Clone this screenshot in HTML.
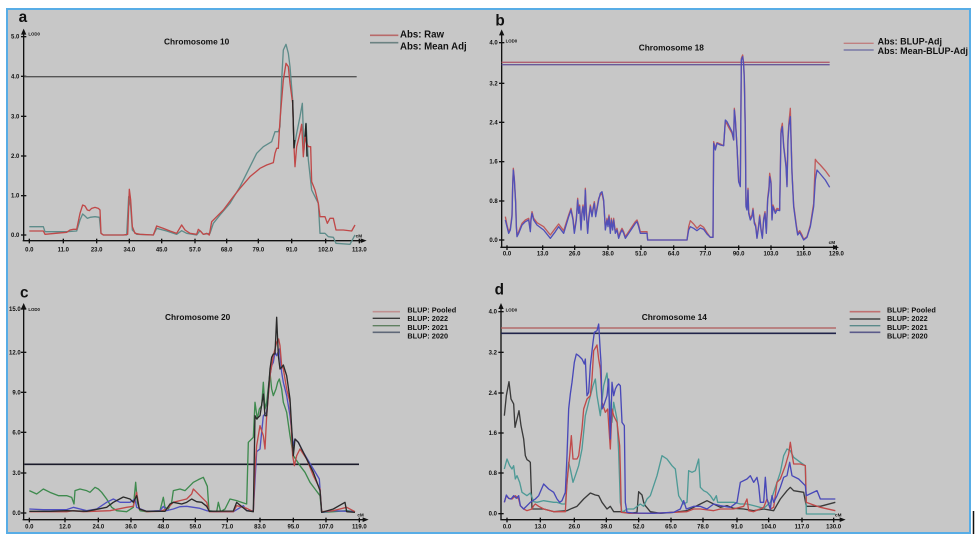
<!DOCTYPE html>
<html><head><meta charset="utf-8"><style>
html,body{margin:0;padding:0;background:#fff;}
svg{display:block;filter:blur(0.35px);}
text{font-family:"Liberation Sans",sans-serif;font-weight:bold;fill:#111;}
</style></head><body>
<svg width="977" height="539" viewBox="0 0 977 539" xmlns="http://www.w3.org/2000/svg">
<rect x="0" y="0" width="977" height="539" fill="#fff"/>
<rect x="7" y="9" width="963" height="524" fill="#c7c7c7" stroke="#58ade6" stroke-width="2"/>
<line x1="973.5" y1="511" x2="973.5" y2="534" stroke="#111" stroke-width="1.5"/>

<!-- PANEL A -->
<g transform="scale(0.33333)">
<text x="56" y="66" font-size="46">a</text>
<text x="85" y="106" font-size="13">LOD0</text>
<line x1="71" y1="96" x2="71" y2="722" stroke="#111" stroke-width="4"/>
<polygon points="63,104 79,104 71,86" fill="#111"/>
<line x1="68" y1="722" x2="1090" y2="722" stroke="#111" stroke-width="4"/>
<polygon points="1082,715 1082,729 1100,722" fill="#111"/>
<text x="1067" y="712" font-size="14">cM</text>
<g stroke="#111" stroke-width="4">
<line x1="63" y1="110" x2="79" y2="110"/><line x1="63" y1="229" x2="79" y2="229"/><line x1="63" y1="349" x2="79" y2="349"/><line x1="63" y1="468" x2="79" y2="468"/><line x1="63" y1="587" x2="79" y2="587"/><line x1="63" y1="705" x2="79" y2="705"/>
<line x1="88" y1="716" x2="88" y2="730"/><line x1="190" y1="716" x2="190" y2="730"/><line x1="290" y1="716" x2="290" y2="730"/><line x1="388" y1="716" x2="388" y2="730"/><line x1="485" y1="716" x2="485" y2="730"/><line x1="585" y1="716" x2="585" y2="730"/><line x1="680" y1="716" x2="680" y2="730"/><line x1="775" y1="716" x2="775" y2="730"/><line x1="875" y1="716" x2="875" y2="730"/><line x1="977" y1="716" x2="977" y2="730"/><line x1="1078" y1="716" x2="1078" y2="730"/>
</g>
<g font-size="18" text-anchor="end">
<text x="58" y="116">5.0</text><text x="58" y="235">4.0</text><text x="58" y="355">3.0</text><text x="58" y="474">2.0</text><text x="58" y="593">1.0</text><text x="58" y="711">0.0</text>
</g>
<g font-size="18" text-anchor="middle">
<text x="88" y="754">0.0</text><text x="190" y="754">11.0</text><text x="290" y="754">23.0</text><text x="388" y="754">34.0</text><text x="485" y="754">45.0</text><text x="585" y="754">57.0</text><text x="680" y="754">68.0</text><text x="775" y="754">79.0</text><text x="875" y="754">91.0</text><text x="977" y="754">102.0</text><text x="1078" y="754">113.0</text>
</g>
<text x="590" y="134" font-size="25" text-anchor="middle">Chromosome 10</text>
<line x1="73" y1="230" x2="1070" y2="230" stroke="#555" stroke-width="4"/>
<line x1="1110" y1="106" x2="1195" y2="106" stroke="#b86a6a" stroke-width="5"/>
<line x1="1110" y1="128" x2="1195" y2="128" stroke="#6b8282" stroke-width="5"/>
<text x="1200" y="112" font-size="29">Abs: Raw</text>
<text x="1200" y="148" font-size="29">Abs: Mean Adj</text>
<polyline fill="none" stroke="#5e8c8a" stroke-width="4" stroke-linejoin="round" points="88,680 130,680 135,695 200,695 230,693 240,660 248,642 255,648 262,655 270,652 285,650 298,652 303,700 310,705 380,705 386,590 392,620 397,690 410,703 460,705 470,685 500,693 530,703 545,692 560,700 590,705 600,692 610,703 630,700 640,670 660,645 690,610 720,560 750,500 770,460 790,440 815,425 825,395 835,395 840,380 845,240 850,150 858,133 865,160 870,200 878,300 882,445 890,400 900,350 907,310 912,450 918,370 925,480 935,570 945,590 955,610 960,700 975,700 985,710 1000,712 1008,730 1050,733 1065,705"/>
<polyline fill="none" stroke="#c04848" stroke-width="4" stroke-linejoin="round" points="88,693 130,693 135,703 200,697 210,690 220,688 230,688 240,640 248,615 255,618 262,630 268,632 275,625 285,622 295,625 300,630 303,700 310,705 370,705 383,703 388,568 392,600 397,680 405,700 420,703 460,705 470,678 490,685 510,693 530,700 545,675 555,690 570,700 590,703 595,688 603,695 610,703 620,700 628,705 635,665 650,650 670,630 700,590 720,565 750,530 780,505 800,495 820,488 825,460 830,445 835,445 840,360 850,240 858,190 865,200 870,250 878,310 882,440 885,500 890,440 900,400 905,373 910,470 915,410 920,430 925,440 932,440 935,545 945,570 955,610 960,650 975,650 982,670 990,655 1000,655 1008,690 1030,690 1055,693 1065,675"/>
<polyline fill="none" stroke="#222" stroke-width="4" points="878,300 882,445 884,420"/>
<polyline fill="none" stroke="#222" stroke-width="4" points="915,410 918,370 921,470"/>
</g>

<!-- PANEL B -->
<g transform="translate(487,0) scale(0.33333)">
<text x="25" y="76" font-size="46">b</text>
<text x="56" y="128" font-size="13">LOD0</text>
<line x1="44" y1="98" x2="44" y2="742" stroke="#111" stroke-width="4"/>
<polygon points="36,106 52,106 44,88" fill="#111"/>
<line x1="40" y1="742" x2="1045" y2="742" stroke="#111" stroke-width="4"/>
<polygon points="1038,735 1038,749 1056,742" fill="#111"/>
<text x="1025" y="732" font-size="14">cM</text>
<g stroke="#111" stroke-width="4">
<line x1="36" y1="128" x2="52" y2="128"/><line x1="36" y1="250" x2="52" y2="250"/><line x1="36" y1="367" x2="52" y2="367"/><line x1="36" y1="485" x2="52" y2="485"/><line x1="36" y1="603" x2="52" y2="603"/><line x1="36" y1="720" x2="52" y2="720"/>
<line x1="60" y1="736" x2="60" y2="750"/><line x1="167" y1="736" x2="167" y2="750"/><line x1="263" y1="736" x2="263" y2="750"/><line x1="363" y1="736" x2="363" y2="750"/><line x1="462" y1="736" x2="462" y2="750"/><line x1="560" y1="736" x2="560" y2="750"/><line x1="655" y1="736" x2="655" y2="750"/><line x1="755" y1="736" x2="755" y2="750"/><line x1="852" y1="736" x2="852" y2="750"/><line x1="950" y1="736" x2="950" y2="750"/><line x1="1048" y1="736" x2="1048" y2="750"/>
</g>
<g font-size="18" text-anchor="end">
<text x="32" y="134">4.0</text><text x="32" y="256">3.2</text><text x="32" y="373">2.4</text><text x="32" y="491">1.6</text><text x="32" y="609">0.8</text><text x="32" y="726">0.0</text>
</g>
<g font-size="18" text-anchor="middle">
<text x="60" y="766">0.0</text><text x="167" y="766">13.0</text><text x="263" y="766">26.0</text><text x="363" y="766">38.0</text><text x="462" y="766">51.0</text><text x="560" y="766">64.0</text><text x="655" y="766">77.0</text><text x="755" y="766">90.0</text><text x="852" y="766">103.0</text><text x="950" y="766">116.0</text><text x="1048" y="766">129.0</text>
</g>
<text x="553" y="152" font-size="25" text-anchor="middle">Chromosome 18</text>
<line x1="44" y1="187" x2="1028" y2="187" stroke="#b06070" stroke-width="4"/>
<line x1="44" y1="194" x2="1028" y2="194" stroke="#6a5a9a" stroke-width="4"/>
<line x1="1070" y1="130" x2="1160" y2="130" stroke="#c08080" stroke-width="4"/>
<line x1="1070" y1="150" x2="1160" y2="150" stroke="#6a6aa0" stroke-width="4"/>
<text x="1172" y="134" font-size="27">Abs: BLUP-Adj</text>
<text x="1172" y="162" font-size="27">Abs: Mean-BLUP-Adj</text>
<polyline fill="none" stroke="#c05a5a" stroke-width="4" stroke-linejoin="round" points="55,650 60,675 65,695 70,685 75,645 77,555 79,505 82,535 86,605 88,675 90,705 95,695 105,670 115,660 125,655 130,690 132,655 135,635 140,655 150,668 170,680 190,705 205,685 215,672 230,692 245,645 252,625 258,655 262,695 268,655 272,595 275,635 278,615 282,685 285,635 288,615 292,655 295,565 298,635 302,695 305,655 310,615 315,645 318,625 322,605 326,645 335,595 340,585 345,580 350,605 355,685 360,655 363,675 366,645 370,695 373,655 377,685 380,655 385,695 390,685 395,710 400,695 405,685 410,695 415,710 425,695 435,680 445,665 450,660 455,675 460,695 470,695 480,695 482,720 600,720 605,680 610,662 620,672 630,685 640,675 650,682 660,698 670,712 678,712 680,425 685,445 690,428 700,432 710,437 715,365 720,372 725,382 735,400 740,420 742,325 745,355 750,440 755,545 760,555 763,175 767,165 770,190 772,235 775,395 777,615 780,625 783,565 785,635 790,655 795,645 798,625 802,665 806,675 810,712 815,675 818,645 822,685 826,712 830,655 834,635 838,695 842,595 846,560 848,520 852,545 855,655 858,615 865,635 870,625 878,628 882,390 886,370 890,435 897,495 900,555 903,410 906,365 910,325 915,515 920,615 928,675 932,700 938,692 945,705 950,718 960,710 970,675 980,610 985,478 990,485 1000,495 1015,512 1028,530"/>
<polyline fill="none" stroke="#5050b8" stroke-width="4" stroke-linejoin="round" points="55,660 60,680 65,700 70,690 75,650 77,560 79,510 82,540 86,610 88,680 90,710 95,700 105,675 115,665 125,660 130,695 132,660 135,640 140,660 150,675 170,690 190,715 205,695 215,680 230,700 245,650 252,630 258,660 262,700 268,660 272,600 275,640 278,620 282,690 285,640 288,620 292,660 295,570 298,640 302,700 305,660 310,620 315,650 318,630 322,610 326,650 335,600 340,580 345,575 350,600 355,690 360,660 363,680 366,650 370,700 373,660 377,690 380,660 385,700 390,690 395,715 400,700 405,690 410,700 415,715 425,700 435,685 445,670 450,665 455,680 460,700 470,700 480,700 482,720 600,720 605,690 610,680 620,685 630,692 640,684 650,688 660,702 670,712 678,712 680,430 685,450 690,430 700,435 710,437 715,360 720,365 725,375 735,395 740,420 742,330 745,360 750,440 755,545 760,560 763,180 767,170 770,195 772,240 775,400 777,620 780,630 783,570 785,640 790,660 795,650 798,630 802,670 806,680 810,715 815,680 818,650 822,690 826,715 830,660 834,640 838,700 842,600 846,570 848,530 852,550 855,660 858,620 865,640 870,630 878,632 882,400 886,380 890,440 897,500 900,560 903,420 906,375 910,350 915,520 920,620 928,680 932,705 938,697 945,710 950,720 960,712 970,680 980,620 985,540 990,510 1000,522 1015,540 1028,562"/>
</g>

<!-- PANEL C -->
<g transform="translate(0,269) scale(0.33333)">
<text x="60" y="86" font-size="46">c</text>
<text x="85" y="126" font-size="13">LOD0</text>
<line x1="71" y1="112" x2="71" y2="752" stroke="#111" stroke-width="4"/>
<polygon points="63,120 79,120 71,102" fill="#111"/>
<line x1="68" y1="752" x2="1095" y2="752" stroke="#111" stroke-width="4"/>
<polygon points="1088,745 1088,759 1106,752" fill="#111"/>
<text x="1072" y="742" font-size="14">cM</text>
<g stroke="#111" stroke-width="4">
<line x1="63" y1="120" x2="79" y2="120"/><line x1="63" y1="250" x2="79" y2="250"/><line x1="63" y1="370" x2="79" y2="370"/><line x1="63" y1="490" x2="79" y2="490"/><line x1="63" y1="612" x2="79" y2="612"/><line x1="63" y1="732" x2="79" y2="732"/>
<line x1="88" y1="746" x2="88" y2="760"/><line x1="195" y1="746" x2="195" y2="760"/><line x1="295" y1="746" x2="295" y2="760"/><line x1="393" y1="746" x2="393" y2="760"/><line x1="490" y1="746" x2="490" y2="760"/><line x1="586" y1="746" x2="586" y2="760"/><line x1="682" y1="746" x2="682" y2="760"/><line x1="780" y1="746" x2="780" y2="760"/><line x1="880" y1="746" x2="880" y2="760"/><line x1="978" y1="746" x2="978" y2="760"/><line x1="1078" y1="746" x2="1078" y2="760"/>
</g>
<g font-size="18" text-anchor="end">
<text x="62" y="126">15.0</text><text x="62" y="256">12.0</text><text x="62" y="376">9.0</text><text x="62" y="496">6.0</text><text x="62" y="618">3.0</text><text x="62" y="738">0.0</text>
</g>
<g font-size="18" text-anchor="middle">
<text x="88" y="778">0.0</text><text x="195" y="778">12.0</text><text x="295" y="778">24.0</text><text x="393" y="778">36.0</text><text x="490" y="778">48.0</text><text x="586" y="778">59.0</text><text x="682" y="778">71.0</text><text x="780" y="778">83.0</text><text x="880" y="778">95.0</text><text x="978" y="778">107.0</text><text x="1078" y="778">119.0</text>
</g>
<text x="593" y="153" font-size="25" text-anchor="middle">Chromosome 20</text>
<line x1="73" y1="586" x2="1077" y2="586" stroke="#1a1a2a" stroke-width="5"/>
<line x1="1118" y1="128" x2="1200" y2="128" stroke="#c09090" stroke-width="5"/>
<line x1="1118" y1="148" x2="1200" y2="148" stroke="#3a3a3a" stroke-width="4"/>
<line x1="1118" y1="170" x2="1200" y2="170" stroke="#5f8060" stroke-width="4"/>
<line x1="1118" y1="190" x2="1200" y2="190" stroke="#5f6878" stroke-width="5"/>
<g font-size="22">
<text x="1222" y="130">BLUP: Pooled</text><text x="1222" y="156">BLUP: 2022</text><text x="1222" y="183">BLUP: 2021</text><text x="1222" y="209">BLUP: 2020</text>
</g>
<polyline fill="none" stroke="#3e8a4e" stroke-width="4" stroke-linejoin="round" points="88,665 110,675 130,660 150,670 175,680 200,680 215,685 222,705 225,665 240,660 260,665 270,670 285,655 295,660 305,670 320,690 335,715 350,725 380,728 400,715 407,640 412,700 420,725 440,728 480,725 490,685 495,715 505,720 515,700 520,665 540,660 555,665 570,650 580,640 595,632 610,625 622,652 627,725 650,728 655,700 662,728 675,720 690,690 710,695 725,700 740,705 745,520 760,505 765,400 772,450 778,420 785,410 790,340 795,420 800,400 810,310 815,360 820,380 828,360 833,340 838,330 845,360 850,400 860,430 870,500 880,560 890,575 900,590 915,610 930,640 945,660 960,680 965,730 1000,728 1040,725 1065,728"/>
<polyline fill="none" stroke="#5050c0" stroke-width="4" stroke-linejoin="round" points="88,720 130,722 200,722 220,715 260,725 290,720 320,700 340,690 360,700 390,700 405,690 410,715 440,727 480,725 490,712 500,725 520,720 540,713 560,712 580,715 600,718 620,725 640,728 700,728 730,710 740,725 760,725 770,548 780,540 790,440 800,430 810,320 815,290 820,280 825,250 830,260 838,240 845,310 850,340 860,380 870,440 880,530 885,510 895,520 910,550 940,600 958,630 965,730 1000,725 1065,728"/>
<polyline fill="none" stroke="#c04a4a" stroke-width="4" stroke-linejoin="round" points="88,728 200,728 220,725 250,728 330,725 380,715 400,712 410,670 418,720 440,728 480,727 500,720 520,700 540,695 560,690 575,675 580,660 590,670 600,680 620,700 628,728 700,728 710,710 740,718 760,728 765,600 770,530 780,470 790,500 795,540 800,440 810,320 820,260 830,220 836,210 840,230 845,290 850,300 860,360 870,400 878,560 883,590 890,560 900,540 920,570 940,620 960,660 965,728 1000,725 1040,715 1065,728"/>
<polyline fill="none" stroke="#2a2a2a" stroke-width="4" stroke-linejoin="round" points="88,727 150,727 200,725 260,727 320,715 340,700 370,684 390,690 400,700 410,680 418,720 440,727 495,727 510,705 520,700 545,705 560,700 575,690 590,698 605,700 620,712 628,727 700,726 710,700 740,725 760,728 765,440 770,450 780,440 790,375 795,440 800,440 810,300 815,265 820,255 825,255 830,145 835,260 840,300 845,295 850,288 860,320 870,390 880,560 885,510 895,520 910,550 940,610 960,665 965,730 1000,720 1035,700 1040,728 1065,730"/>
</g>

<!-- PANEL D -->
<g transform="translate(487,269) scale(0.33333)">
<text x="23" y="76" font-size="46">d</text>
<text x="56" y="128" font-size="13">LOD0</text>
<line x1="42" y1="112" x2="42" y2="752" stroke="#111" stroke-width="4"/>
<polygon points="34,120 50,120 42,102" fill="#111"/>
<line x1="40" y1="752" x2="1065" y2="752" stroke="#111" stroke-width="4"/>
<polygon points="1058,745 1058,759 1076,752" fill="#111"/>
<text x="1044" y="742" font-size="14">cM</text>
<g stroke="#111" stroke-width="4">
<line x1="34" y1="128" x2="50" y2="128"/><line x1="34" y1="250" x2="50" y2="250"/><line x1="34" y1="372" x2="50" y2="372"/><line x1="34" y1="492" x2="50" y2="492"/><line x1="34" y1="612" x2="50" y2="612"/><line x1="34" y1="734" x2="50" y2="734"/>
<line x1="60" y1="746" x2="60" y2="760"/><line x1="160" y1="746" x2="160" y2="760"/><line x1="262" y1="746" x2="262" y2="760"/><line x1="358" y1="746" x2="358" y2="760"/><line x1="455" y1="746" x2="455" y2="760"/><line x1="552" y1="746" x2="552" y2="760"/><line x1="648" y1="746" x2="648" y2="760"/><line x1="750" y1="746" x2="750" y2="760"/><line x1="845" y1="746" x2="845" y2="760"/><line x1="945" y1="746" x2="945" y2="760"/><line x1="1040" y1="746" x2="1040" y2="760"/>
</g>
<g font-size="18" text-anchor="end">
<text x="30" y="134">4.0</text><text x="30" y="256">3.2</text><text x="30" y="378">2.4</text><text x="30" y="498">1.6</text><text x="30" y="618">0.8</text><text x="30" y="740">0.0</text>
</g>
<g font-size="18" text-anchor="middle">
<text x="60" y="778">0.0</text><text x="160" y="778">13.0</text><text x="262" y="778">26.0</text><text x="358" y="778">39.0</text><text x="455" y="778">52.0</text><text x="552" y="778">65.0</text><text x="648" y="778">78.0</text><text x="750" y="778">91.0</text><text x="845" y="778">104.0</text><text x="945" y="778">117.0</text><text x="1040" y="778">130.0</text>
</g>
<text x="562" y="153" font-size="25" text-anchor="middle">Chromosome 14</text>
<line x1="42" y1="177" x2="1047" y2="177" stroke="#b05a5a" stroke-width="4"/>
<line x1="42" y1="193" x2="1047" y2="193" stroke="#20244a" stroke-width="5"/>
<line x1="1088" y1="128" x2="1180" y2="128" stroke="#c07070" stroke-width="5"/>
<line x1="1088" y1="150" x2="1180" y2="150" stroke="#2a2a2a" stroke-width="4"/>
<line x1="1088" y1="170" x2="1180" y2="170" stroke="#5a8a8a" stroke-width="4"/>
<line x1="1088" y1="190" x2="1180" y2="190" stroke="#5a5a8a" stroke-width="5"/>
<g font-size="22">
<text x="1200" y="130">BLUP: Pooled</text><text x="1200" y="156">BLUP: 2022</text><text x="1200" y="183">BLUP: 2021</text><text x="1200" y="209">BLUP: 2020</text>
</g>
<polyline fill="none" stroke="#3a3a3a" stroke-width="4" stroke-linejoin="round" points="52,440 58,380 66,338 72,390 80,405 84,475 90,450 96,425 102,470 110,510 115,560 120,572 125,575 130,580 132,640 135,720 150,720 170,720 200,728 240,725 255,718 270,712 290,690 310,672 325,678 335,680 345,700 360,720 370,712 380,728 400,728 430,733 450,730 455,668 465,678 470,700 475,710 490,728 520,733 560,730 600,725 620,715 640,705 660,695 680,705 700,715 720,710 740,718 770,720 800,725 830,720 860,725 880,690 900,665 910,655 920,665 950,670 958,712 1000,712 1045,700"/>
<polyline fill="none" stroke="#4e9a96" stroke-width="4" stroke-linejoin="round" points="52,600 60,570 68,590 75,600 80,590 85,630 90,620 98,640 105,670 120,680 130,672 140,698 150,700 170,695 200,700 210,700 225,705 235,705 245,580 250,600 258,640 265,620 275,590 285,540 295,440 305,400 318,350 325,330 330,380 340,440 350,350 360,312 365,370 375,460 380,400 390,450 395,550 400,700 405,730 420,720 440,720 460,705 470,712 480,690 490,680 510,620 525,560 540,570 555,590 565,600 575,680 590,705 600,700 605,605 615,610 625,605 635,570 640,655 650,665 660,670 670,680 680,695 688,680 692,700 700,700 740,700 760,705 780,705 800,710 830,718 850,700 870,640 880,610 890,560 900,540 910,545 920,565 940,580 955,590 958,735 1045,735"/>
<polyline fill="none" stroke="#c04a4a" stroke-width="4" stroke-linejoin="round" points="52,700 58,680 65,688 75,690 85,680 95,690 100,710 110,720 120,725 135,720 140,710 145,705 155,712 170,720 200,728 235,728 240,640 248,560 253,500 258,570 270,570 275,560 285,480 290,420 300,390 310,380 315,330 320,245 330,228 335,270 340,300 345,400 355,430 362,420 370,540 375,420 380,440 385,450 390,460 398,530 400,600 403,730 430,733 500,733 560,730 600,728 620,720 640,720 680,725 700,720 740,720 770,712 780,690 785,725 800,728 830,715 840,690 850,720 860,715 870,640 880,630 895,590 905,555 910,520 915,555 920,585 940,585 955,590 958,700 1000,715 1045,725"/>
<polyline fill="none" stroke="#4848b8" stroke-width="4" stroke-linejoin="round" points="52,700 58,678 65,688 72,690 80,680 88,688 95,680 100,710 110,720 120,710 130,700 145,690 155,680 170,645 185,660 200,670 210,690 218,700 225,695 235,670 240,560 245,420 250,375 255,340 262,280 268,255 275,260 285,270 292,285 295,270 300,380 305,370 310,290 318,220 322,190 330,185 335,165 340,250 342,280 345,420 350,410 360,380 365,330 368,450 370,510 375,340 380,380 385,360 390,350 395,345 400,350 405,460 412,470 415,700 420,730 440,732 500,733 560,730 580,720 590,695 598,720 620,712 640,712 660,720 680,705 700,710 730,715 750,700 760,640 780,630 790,620 800,640 810,625 815,650 820,700 830,700 835,625 840,690 850,720 855,680 860,700 870,680 880,655 890,625 900,620 908,580 915,620 935,630 955,650 958,680 990,665 1000,690 1045,690"/>
</g>
</svg>
</body></html>
